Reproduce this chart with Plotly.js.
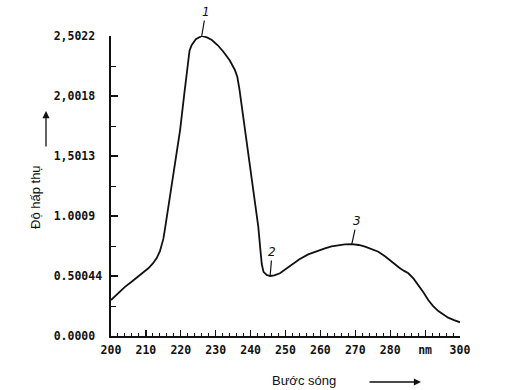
<!DOCTYPE html>
<html>
<head>
<meta charset="utf-8">
<script src="https://cdn.plot.ly/plotly-3.0.1.min.js"></script>
<style>html,body{margin:0;padding:0;background:#fff;}#chart{width:508px;height:390px;}</style>
</head>
<body>
<div id="chart"></div>
<script>
// Wavelength (nm) and absorbance
const wavelength = [200, 202, 204, 206, 207.8, 209.3, 210.7, 212, 213.1, 214, 214.5, 215, 215.5, 216.2, 217.4, 218.6, 219.8, 221, 222, 222.5, 223.1, 224.3, 226, 227.5, 228.9, 230.6, 232.2, 234, 235.5, 236.2, 236.8, 237.9, 239.3, 240.8, 242.2, 242.8, 243.2, 243.7, 244.6, 245.6, 246.8, 248.4, 250, 251.8, 254, 256.5, 259, 261.3, 263.2, 265.1, 267, 269, 271, 272.8, 274.7, 276.6, 278.5, 280.4, 281.6, 282.8, 284, 285.2, 286.7, 288.1, 289.5, 290.9, 292.3, 293.8, 295.2, 296.6, 298.3, 300];
const absorbance = [0.30, 0.355, 0.41, 0.455, 0.495, 0.53, 0.565, 0.605, 0.650, 0.705, 0.750, 0.810, 0.90, 1.04, 1.245, 1.48, 1.718, 2.02, 2.30, 2.38, 2.425, 2.475, 2.5022, 2.49, 2.469, 2.425, 2.371, 2.30, 2.219, 2.16, 2.06, 1.82, 1.524, 1.22, 0.912, 0.72, 0.60, 0.535, 0.509, 0.50044, 0.505, 0.523, 0.555, 0.592, 0.64, 0.681, 0.71, 0.731, 0.748, 0.759, 0.765, 0.767, 0.759, 0.745, 0.726, 0.703, 0.665, 0.620, 0.59, 0.565, 0.543, 0.523, 0.478, 0.425, 0.365, 0.300, 0.25, 0.208, 0.178, 0.153, 0.132, 0.114];

// Axis ticks
const yTickVals = [0, 0.50044, 1.00088, 1.50132, 2.00176, 2.5022];
const yTickText = ["0.0000", "0.50044", "1.0009", "1,5013", "2,0018", "2,5022"];
const xTickVals = [200, 210, 220, 230, 240, 250, 260, 270, 280, 290, 300];
const xTickText = ["200", "210", "220", "230", "240", "250", "260", "270", "280", "nm", "300"];

// Marked points
const markLabels = ["1", "2", "3"];
const markRanges = [[200, 300, "max"], [240, 255, "min"], [255, 285, "max"]];

const W = 508, H = 390;
const M = {l: 111, r: 48, t: 36, b: 54};
const pw = W - M.l - M.r, ph = H - M.t - M.b;
const px = x => (x - M.l) / pw;
const py = y => (H - M.b - y) / ph;

// pad labels so monospace labels appear left-aligned
const maxLen = Math.max(...yTickText.map(s => s.length));
const yTickPadded = yTickText.map(s => s + "\u00A0".repeat(maxLen - s.length));

function findMark(r) {
  let best = -1;
  for (let i = 0; i < wavelength.length; i++) {
    if (wavelength[i] < r[0] || wavelength[i] > r[1]) continue;
    if (best < 0 || (r[2] === "max" ? absorbance[i] > absorbance[best] : absorbance[i] < absorbance[best])) best = i;
  }
  return best;
}
const markOffsets = [[4, -24], [2, -24], [5, -23]];
const annotations = markLabels.map((t, k) => {
  const i = findMark(markRanges[k]);
  return {
    x: wavelength[i], y: absorbance[i], xref: 'x', yref: 'y',
    text: '<i>' + t + '</i>', showarrow: true, arrowhead: 0, arrowwidth: 1.2,
    arrowcolor: '#111', ax: markOffsets[k][0], ay: markOffsets[k][1],
    font: {family: 'DejaVu Sans', size: 12, color: '#111'}, standoff: 0
  };
});

// axis titles
annotations.push({
  xref: 'paper', yref: 'paper', x: px(35), y: py(197), text: 'Độ hấp thụ',
  textangle: -90, showarrow: false, font: {family: 'Liberation Sans, Arial', size: 13, color: '#111'},
  xanchor: 'center', yanchor: 'middle'
});
annotations.push({
  xref: 'paper', yref: 'paper', x: px(304), y: py(380), text: 'Bước sóng',
  showarrow: false, font: {family: 'Liberation Sans, Arial', size: 13, color: '#111'},
  xanchor: 'center', yanchor: 'middle'
});
// arrows next to titles
annotations.push({
  xref: 'paper', yref: 'paper', x: px(46), y: py(111), ax: 0, ay: 37, text: '',
  showarrow: true, arrowhead: 2, arrowsize: 1.1, arrowwidth: 1.3, arrowcolor: '#111'
});
annotations.push({
  xref: 'paper', yref: 'paper', x: px(421), y: py(382), ax: -53, ay: 0, text: '',
  showarrow: true, arrowhead: 2, arrowsize: 1.1, arrowwidth: 1.3, arrowcolor: '#111'
});

const tickFont = {family: 'DejaVu Sans Mono, monospace', size: 11.5, color: '#111', weight: 600};

Plotly.newPlot('chart', [{
  x: wavelength, y: absorbance, type: 'scatter', mode: 'lines',
  line: {color: '#111', width: 1.8, shape: 'linear'},
  cliponaxis: false, hoverinfo: 'skip'
}], {
  width: W, height: H,
  margin: M,
  paper_bgcolor: '#fff', plot_bgcolor: '#fff',
  showlegend: false,
  xaxis: {
    range: [200, 300], showgrid: false, zeroline: false,
    showline: true, linecolor: '#111', linewidth: 1.6,
    ticks: 'inside', ticklen: 6, tickwidth: 1.2, tickcolor: '#111',
    tickmode: 'array', tickvals: xTickVals, ticktext: xTickText,
    tickfont: tickFont, ticklabelstandoff: 3,
    minor: {dtick: 2, tick0: 200, ticks: 'inside', ticklen: 3, tickwidth: 1, tickcolor: '#111', showgrid: false}
  },
  yaxis: {
    range: [0, 2.5022], showgrid: false, zeroline: false,
    showline: true, linecolor: '#111', linewidth: 1.6,
    ticks: 'inside', ticklen: 7, tickwidth: 1.2, tickcolor: '#111',
    tickmode: 'array', tickvals: yTickVals, ticktext: yTickPadded,
    tickfont: tickFont, ticklabelstandoff: 5,
    minor: {dtick: 0.25022, tick0: 0, ticks: 'inside', ticklen: 5, tickwidth: 1, tickcolor: '#111', showgrid: false}
  },
  annotations: annotations
}, {staticPlot: true, displayModeBar: false});
</script>
</body>
</html>
